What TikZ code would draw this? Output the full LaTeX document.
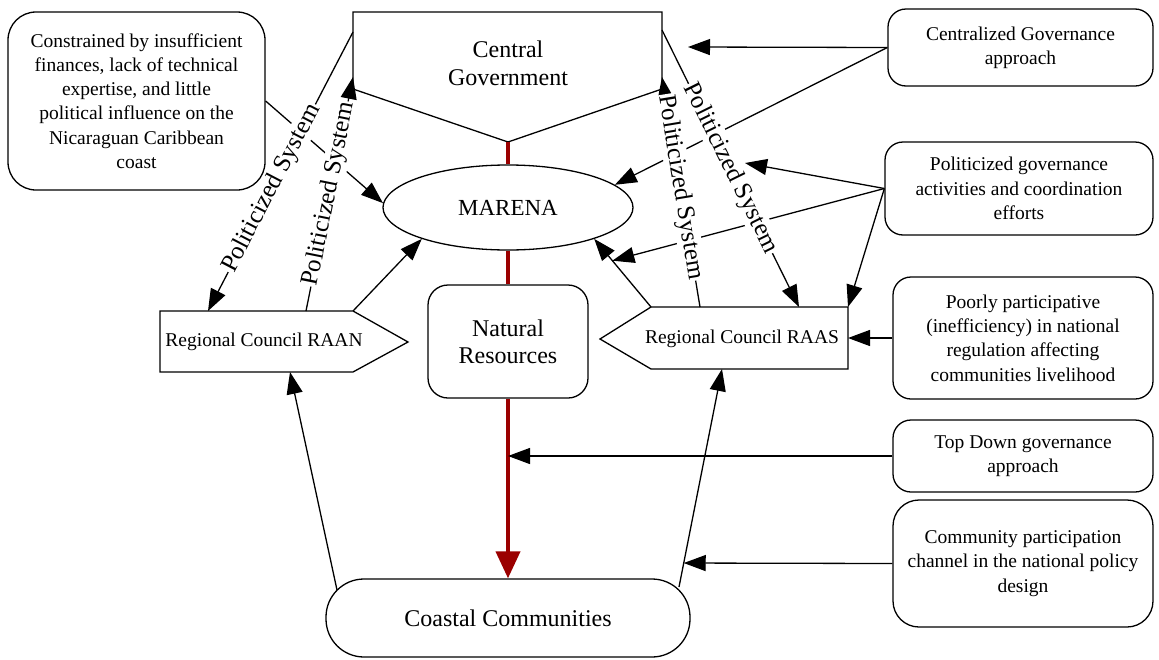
\documentclass[tikz,border=0pt]{standalone}
\usepackage{fontspec}
\setmainfont{Liberation Serif}
\usetikzlibrary{arrows.meta,shapes.geometric,calc}
\definecolor{darkred}{RGB}{155,0,0}
\tikzset{
  note/.style={draw, line width=1.3pt, rounded corners=18pt, align=center, inner sep=0pt, font=\fontsize{19.5}{24.3}\selectfont},
  arr/.style={line width=1.3pt, -{Triangle[length=22pt,width=16pt]}},
  pol/.style={sloped, fill=white, inner sep=1pt, font=\fontsize{25}{25}\selectfont},
  flow/.style={draw=darkred, line width=4pt},
}
\begin{document}
\begin{tikzpicture}[x=1pt,y=-1pt]
	\fill[white] (0,0) rectangle (1159,659);
	\useasboundingbox (0,0) rectangle (1159,659);
	
	% shapes
	\draw[line width=1.3pt, fill=white] (353,12) -- (662,12) -- (662,89) -- (508,142) coordinate (cgV) -- (353,89) -- cycle;
	\node[align=center, font=\fontsize{24}{28}\selectfont] (cg) at (508,63) {Central\\Government};
	\coordinate (cgL) at (353,32);
	\coordinate (cgLa) at (353,77);
	\coordinate (cgR) at (662,30);
	\coordinate (cgRa) at (662,77);
	
	\draw[line width=1.3pt, fill=white] (160,311) -- (353,311) coordinate (raanNE) -- (408,342) -- (353,372) -- (160,372) -- cycle;
	\node[font=\fontsize{19.5}{20}\selectfont] (raan) at (264,342) {Regional Council RAAN};
	\coordinate (raanN1) at (208,311);
	\coordinate (raanN2) at (306,311);
	\coordinate (raanS) at (290,372);
	
	\draw[line width=1.3pt, fill=white] (600,339) -- (651,307) coordinate (raasNW) -- (848,307) coordinate (raasNE) -- (848,369) -- (651,369) -- cycle;
	\node[font=\fontsize{19.5}{20}\selectfont] (raas) at (742,339) {Regional Council RAAS};
	\coordinate (raasN1) at (700,307);
	\coordinate (raasN2) at (799,307);
	\coordinate (raasE) at (848,338);
	\coordinate (raasS) at (722,369);
	
	\node[draw, ellipse, line width=1.3pt, minimum width=250pt, minimum height=85pt, inner sep=0pt, font=\fontsize{23}{23}\selectfont] (marena) at (508,207.5) {MARENA};
	\node[note, rounded corners=20pt, minimum width=160pt, minimum height=113pt, font=\fontsize{24}{27}\selectfont] (nr) at (508,341.5) {Natural\\Resources};
	\node[note, rounded corners=38pt, minimum width=364pt, minimum height=78pt, font=\fontsize{24}{24}\selectfont] (cc) at (508,618) {Coastal Communities};
	\coordinate (ccW) at (337,590);
	\coordinate (ccE) at (679,587);
	
	\node[note, rounded corners=28pt, minimum width=257pt, minimum height=178pt] (lbox) at (136.5,101) {Constrained by insufficient\\finances, lack of technical\\expertise, and little\\political influence on the\\Nicaraguan Caribbean\\coast};
	\node[note, minimum width=265pt, minimum height=77pt] (cbox) at (1020.5,47.5) {Centralized Governance\\approach};
	\node[note, minimum width=268pt, minimum height=93pt] (pbox) at (1019,188.5) {Politicized governance\\activities and coordination\\efforts};
	\node[note, minimum width=260pt, minimum height=122pt] (qbox) at (1023,338) {Poorly participative\\(inefficiency) in national\\regulation affecting\\communities livelihood};
	\node[note, minimum width=260pt, minimum height=72pt] (tbox) at (1023,456) {Top Down governance\\approach};
	\node[note, rounded corners=26pt, minimum width=260pt, minimum height=127pt] (mbox) at (1023,563.5) {Community participation\\channel in the national policy\\design};
	
	% main flow
	\draw[flow] (cgV) -- (marena.north);
	\draw[flow] (marena.south) -- (nr.north);
	\draw[flow, -{Triangle[length=27pt,width=24pt]}] (nr.south) -- (cc.north);
	
	% plain links
	\coordinate (cgEnd) at (688,47);
	\coordinate (polEnd) at (745,163);
	\draw[arr] (lbox.east) -- (marena.178);
	\draw[arr] (cbox.west) -- (cgEnd);
	\draw[arr] (cbox.west) -- (marena.12);
	\draw[arr] (pbox.west) -- (polEnd);
	\draw[arr] (pbox.west) -- ($(raasNW)!0.68!(marena.-20)$);
	\draw[arr] (pbox.west) -- (raasNE);
	\draw[arr] (qbox.west) -- (raasE);
	\draw[arr] (tbox.west) -- (nr.south |- tbox.west);
	\draw[arr] (mbox.west) -- ($(ccE)!0.11!(raasS)$);
	\draw[arr] (raanNE) -- (marena.200);
	\draw[arr] (raasNW) -- (marena.-20);
	\draw[arr] (ccW) -- (raanS);
	\draw[arr] (ccE) -- (raasS);
	
	% politicized links
	\draw[arr] (cgL) -- (raanN1) node[pol, pos=.56] {Politicized System};
	\draw[arr] (raanN2) -- (cgLa) node[pol, pos=.5] {Politicized System};
	\draw[arr] (cgR) -- (raasN2) node[pol, pos=.5] {Politicized System};
	\draw[arr] (raasN1) -- (cgRa) node[pol, pos=.52] {Politicized System};
\end{tikzpicture}
\end{document}
